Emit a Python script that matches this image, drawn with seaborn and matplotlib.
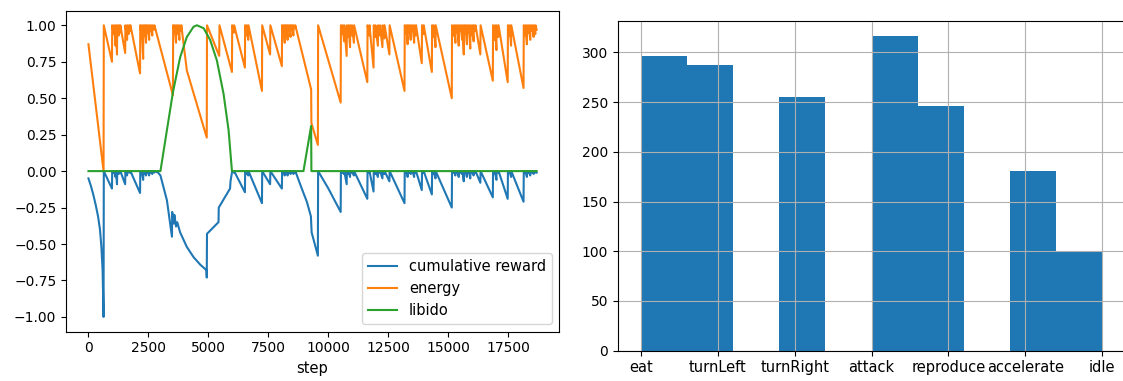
import matplotlib
matplotlib.use("Agg")
import matplotlib.pyplot as plt
import seaborn as sns

# ---------------- data: left panel ----------------
energy_step = [
    0, 630, 640, 980, 990, 1060, 1070, 1130, 1140, 1190, 1200, 1260, 1270, 1320, 1330,
    1530, 1540, 1610, 1620, 1680, 1690, 1740, 1750, 2150, 2160, 2210, 2220, 2280, 2290,
    2340, 2350, 2400, 2410, 2460, 2470, 2530, 2540, 2590, 2600, 2660, 2670, 2740, 2750,
    3520, 3530, 3580, 3590, 3650, 3660, 3720, 3730, 3790, 3800, 3860, 3870, 4100,
    4930, 4940, 5450, 5460, 5980, 5990, 6060, 6070, 6520, 6530, 6590, 6600, 6660, 6670,
    7230, 7240, 7570, 7580, 8060, 8070, 8120, 8130, 8180, 8190, 8240, 8250, 8300, 8310,
    8360, 8370, 8420, 8430, 8480, 8490, 8540, 8550, 8610, 8620, 9280, 9290, 9560, 9570,
    10510, 10520, 10580, 10590, 10650, 10660, 10760, 10770, 10830, 10840, 10900, 10910,
    10970, 10980, 11060, 11070, 11620, 11630, 11700, 11710, 11880, 11890, 11950, 11960,
    12060, 12070, 12140, 12150, 12250, 12260, 12330, 12340, 12540, 12550, 13170, 13180,
    13240, 13250, 13300, 13310, 13360, 13370, 13430, 13440, 13500, 13510, 13570, 13580,
    13640, 13650, 13890, 13900, 13960, 13970, 14310, 14320, 14380, 14390, 14460, 14470,
    15140, 15150, 15220, 15230, 15290, 15300, 15360, 15370, 15430, 15440, 15500, 15510,
    15570, 15580, 15640, 15650, 15700, 15710, 15770, 15780, 15840, 15850, 15910, 15920,
    15980, 15990, 16050, 16060, 16120, 16130, 16330, 16340, 16850, 16860, 16930, 16940,
    17000, 17010, 17080, 17090, 17470, 17480, 17540, 17550, 17610, 17620, 18130, 18140,
    18200, 18210, 18270, 18280, 18340, 18350, 18410, 18420, 18480, 18490, 18550, 18560,
    18620, 18630, 18675,
]
energy_val = [
    0.87, 0.00, 1.00, 0.75, 1.00, 0.94, 1.00, 0.86, 1.00, 0.80, 1.00, 0.93, 1.00, 0.95, 1.00,
    0.81, 1.00, 0.90, 1.00, 0.94, 1.00, 0.96, 1.00, 0.67, 1.00, 0.94, 1.00, 0.77, 1.00,
    0.93, 1.00, 0.88, 1.00, 0.95, 1.00, 0.90, 1.00, 0.96, 1.00, 0.93, 1.00, 0.97, 1.00,
    0.52, 1.00, 0.95, 1.00, 0.88, 1.00, 0.94, 1.00, 0.90, 1.00, 0.96, 1.00, 0.69,
    0.23, 1.00, 0.79, 1.00, 0.68, 1.00, 0.95, 1.00, 0.71, 1.00, 0.93, 1.00, 0.90, 1.00,
    0.55, 1.00, 0.80, 1.00, 0.72, 1.00, 0.94, 1.00, 0.88, 1.00, 0.95, 1.00, 0.90, 1.00,
    0.96, 1.00, 0.92, 1.00, 0.97, 1.00, 0.93, 1.00, 0.98, 1.00, 0.56, 0.33, 0.18, 1.00,
    0.47, 1.00, 0.94, 1.00, 0.89, 1.00, 0.79, 1.00, 0.92, 1.00, 0.85, 1.00,
    0.93, 1.00, 0.88, 1.00, 0.61, 1.00, 0.93, 1.00, 0.71, 1.00, 0.92, 1.00,
    0.86, 1.00, 0.93, 1.00, 0.85, 1.00, 0.91, 1.00, 0.80, 1.00, 0.55, 1.00,
    0.94, 1.00, 0.87, 1.00, 0.95, 1.00, 0.90, 1.00, 0.96, 1.00, 0.88, 1.00,
    0.93, 1.00, 0.74, 1.00, 0.94, 1.00, 0.68, 1.00, 0.92, 1.00, 0.85, 1.00,
    0.50, 1.00, 0.93, 1.00, 0.88, 1.00, 0.95, 1.00, 0.86, 1.00, 0.96, 1.00,
    0.90, 1.00, 0.80, 1.00, 0.94, 1.00, 0.87, 1.00, 0.95, 1.00, 0.84, 1.00,
    0.93, 1.00, 0.89, 1.00, 0.96, 1.00, 0.80, 1.00, 0.62, 1.00, 0.90, 1.00,
    0.83, 1.00, 0.92, 1.00, 0.61, 1.00, 0.93, 1.00, 0.86, 1.00, 0.57, 1.00,
    0.93, 1.00, 0.87, 1.00, 0.95, 1.00, 0.90, 1.00, 0.96, 1.00, 0.92, 1.00,
    0.94, 1.00, 0.97,
]

reward_step = [
    0, 100, 200, 300, 400, 480, 540, 590, 630, 640, 980, 990, 1060, 1070, 1130, 1140, 1190, 1200,
    1260, 1270, 1320, 1330, 1530, 1540, 1610, 1620, 1680, 1690, 1740, 1750, 2150, 2160,
    2210, 2220, 2280, 2290, 2340, 2350, 2400, 2410, 2460, 2470, 2530, 2540, 2590, 2600,
    2660, 2670, 2740, 2750, 2900, 3000, 3270, 3480, 3490, 3560, 3580, 3650, 3700, 3820,
    4100, 4380, 4650, 4920, 4930, 4940, 5420, 5430, 5900, 5920, 5990,
    6060, 6070, 6520, 6530, 6590, 6600, 6660, 6670, 7230, 7240, 7570, 7580, 8060, 8070,
    8120, 8130, 8180, 8190, 8240, 8250, 8300, 8310, 8360, 8370, 8420, 8430, 8480, 8490,
    8540, 8550, 8610, 8620, 8890, 9100, 9270, 9300, 9430, 9560, 9570,
    10000, 10510, 10520, 10580, 10590, 10650, 10660, 10760, 10770, 10830, 10840, 10900, 10910,
    10970, 10980, 11060, 11070, 11620, 11630, 11700, 11710, 11880, 11890, 11950, 11960,
    12060, 12070, 12140, 12150, 12250, 12260, 12330, 12340, 12540, 12550, 13170, 13180,
    13240, 13250, 13300, 13310, 13360, 13370, 13430, 13440, 13500, 13510, 13570, 13580,
    13640, 13650, 13890, 13900, 13960, 13970, 14310, 14320, 14380, 14390, 14460, 14470,
    15140, 15150, 15220, 15230, 15290, 15300, 15360, 15370, 15430, 15440, 15500, 15510,
    15570, 15580, 15640, 15650, 15700, 15710, 15770, 15780, 15840, 15850, 15910, 15920,
    15980, 15990, 16050, 16060, 16120, 16130, 16330, 16340, 16850, 16860, 16930, 16940,
    17000, 17010, 17080, 17090, 17470, 17480, 17540, 17550, 17610, 17620, 18130, 18140,
    18200, 18210, 18270, 18280, 18340, 18350, 18410, 18420, 18480, 18490, 18550, 18560,
    18620, 18630, 18675,
]
reward_val = [
    -0.05, -0.10, -0.16, -0.23, -0.31, -0.40, -0.52, -0.68, -1.00, 0.00, -0.12, 0.00, -0.01, 0.00,
    -0.04, 0.00, -0.09, 0.00,
    -0.02, 0.00, -0.01, 0.00, -0.09, 0.00, -0.03, 0.00, -0.01, 0.00, -0.01, 0.00, -0.15, 0.00,
    -0.01, 0.00, -0.06, 0.00, -0.02, 0.00, -0.03, 0.00, -0.01, 0.00, -0.03, 0.00, -0.01, 0.00,
    -0.02, 0.00, -0.01, 0.00, -0.01, -0.03, -0.20, -0.45, -0.28, -0.36, -0.30, -0.38, -0.35, -0.42,
    -0.52, -0.59, -0.64, -0.68, -0.73, -0.43, -0.35, -0.25, -0.12, -0.07, 0.00,
    -0.01, 0.00, -0.145, 0.00, -0.02, 0.00, -0.03, 0.00, -0.22, 0.00, -0.09, 0.00, -0.12, 0.00,
    -0.01, 0.00, -0.03, 0.00, -0.01, 0.00, -0.03, 0.00, -0.01, 0.00, -0.02, 0.00, -0.01, 0.00,
    -0.02, 0.00, -0.01, 0.00, -0.12, -0.21, -0.31, -0.42, -0.50, -0.58, 0.00,
    -0.12, -0.28, 0.00, -0.01, 0.00, -0.02, 0.00, -0.09, 0.00, -0.02, 0.00, -0.04, 0.00,
    -0.01, 0.00, -0.03, 0.00, -0.19, 0.00, -0.01, 0.00, -0.14, 0.00, -0.02, 0.00,
    -0.04, 0.00, -0.01, 0.00, -0.05, 0.00, -0.02, 0.00, -0.07, 0.00, -0.22, 0.00,
    -0.01, 0.00, -0.04, 0.00, -0.01, 0.00, -0.02, 0.00, -0.01, 0.00, -0.04, 0.00,
    -0.01, 0.00, -0.13, 0.00, -0.01, 0.00, -0.16, 0.00, -0.02, 0.00, -0.05, 0.00,
    -0.25, 0.00, -0.01, 0.00, -0.03, 0.00, -0.01, 0.00, -0.04, 0.00, -0.01, 0.00,
    -0.02, 0.00, -0.07, 0.00, -0.01, 0.00, -0.04, 0.00, -0.01, 0.00, -0.05, 0.00,
    -0.01, 0.00, -0.03, 0.00, -0.01, 0.00, -0.08, 0.00, -0.18, 0.00, -0.02, 0.00,
    -0.06, 0.00, -0.01, 0.00, -0.19, 0.00, -0.01, 0.00, -0.04, 0.00, -0.21, 0.00,
    -0.01, 0.00, -0.04, 0.00, -0.01, 0.00, -0.03, 0.00, -0.01, 0.00, -0.02, 0.00,
    -0.01, 0.00, -0.01,
]

libido_step = [0, 3000, 3250, 3520, 3820, 4100, 4380, 4520, 4800, 5070, 5350, 5630,
               5840, 5980, 8960, 9280, 9290, 18675]
libido_val = [0.00, 0.00, 0.26, 0.54, 0.78, 0.92, 0.99, 1.00, 0.98, 0.90, 0.76, 0.53,
              0.28, 0.00, 0.00, 0.31, 0.00, 0.00]

# ---------------- data: right panel ----------------
actions = ["eat", "turnLeft", "turnRight", "attack", "reproduce", "accelerate", "idle"]
action_counts = [296, 287, 255, 316, 246, 181, 99]

# ---------------- figure ----------------
fig = plt.figure(figsize=(11.23, 3.81), dpi=100)
ax1 = fig.add_axes([0.0588, 0.1299, 0.4390, 0.8420])
ax2 = fig.add_axes([0.5503, 0.0795, 0.4515, 0.8661])

sns.lineplot(x=reward_step, y=reward_val, sort=False, estimator=None,
             color="C0", label="cumulative reward", ax=ax1)
sns.lineplot(x=energy_step, y=energy_val, sort=False, estimator=None,
             color="C1", label="energy", ax=ax1)
sns.lineplot(x=libido_step, y=libido_val, sort=False, estimator=None,
             color="C2", label="libido", ax=ax1)
ax1.set_xlabel("step", fontsize=10.5)
ax1.set_ylabel("")
ax1.set_yticks([-1.0, -0.75, -0.5, -0.25, 0.0, 0.25, 0.5, 0.75, 1.0])
ax1.legend(loc="lower right", fontsize=10.5)

codes = list(range(len(actions)))
sns.histplot(x=codes, weights=action_counts, bins=10, binrange=(0, len(actions) - 1),
             color="#1f77b4", alpha=1, edgecolor="none", linewidth=0, ax=ax2)
ax2.set_xlim(-0.3, 6.3)
ax2.set_xticks(codes)
ax2.set_xticklabels(actions, fontsize=10.5)
ax2.set_xlabel("")
ax2.set_ylabel("")
ax2.grid(True)

fig.savefig("out.png", dpi=100)
